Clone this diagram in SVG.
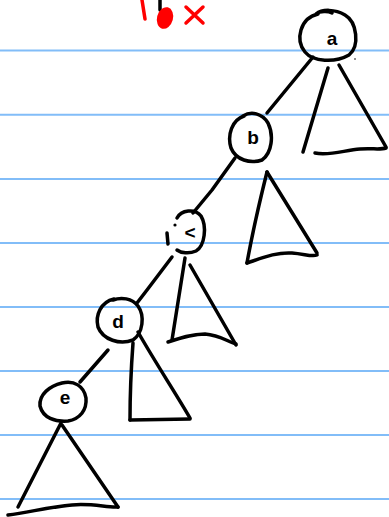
<svg xmlns="http://www.w3.org/2000/svg" width="389" height="517" viewBox="0 0 389 517">
<style>
.rule{stroke:#82bdf8;stroke-width:2}
.ink{fill:none;stroke:#000;stroke-width:3.5;stroke-linecap:round;stroke-linejoin:round}
.red{fill:none;stroke:#f00;stroke-width:3.5;stroke-linecap:round}
.lbl{font-family:"Liberation Sans",Arial,sans-serif;font-size:19px;font-weight:bold;fill:#000;text-anchor:middle}
</style>
<rect width="389" height="517" fill="#fff"/>
<g id="paper">
<line class="rule" x1="0" y1="50.5" x2="389" y2="50.5"/>
<line class="rule" x1="0" y1="114.8" x2="389" y2="114.8"/>
<line class="rule" x1="0" y1="179" x2="389" y2="179"/>
<line class="rule" x1="0" y1="243" x2="389" y2="243"/>
<line class="rule" x1="0" y1="307" x2="389" y2="307"/>
<line class="rule" x1="0" y1="371" x2="389" y2="371"/>
<line class="rule" x1="0" y1="435" x2="389" y2="435"/>
<line class="rule" x1="0" y1="499" x2="389" y2="499"/>
</g>
<g id="marks">
<path class="red" d="M142,0 L145,19"/>
<path class="ink" d="M160,0 L160,10"/>
<ellipse cx="165" cy="18" rx="8" ry="11" fill="#f00" transform="rotate(15 165 18)"/>
<path class="red" d="M186,7 L203,23 M203,7 L186,23"/>
</g>
<g id="connectors">
<path class="ink" d="M313,57 L267,113"/>
<path class="ink" d="M235,158 L212,190 L193,213"/>
<path class="ink" d="M172,257 L147,290 L137,303"/>
<path class="ink" d="M108,350 L80,382"/>
</g>
<g id="node-a">
<path class="ink" d="M318,14 C300,18 295,40 305,52 C313,62 335,63 349,55 C360,46 357,22 345,15 C335,9 322,9 316,14 C320,11 328,11 332,13"/>
<text class="lbl" x="332" y="45">a</text>
<circle cx="355" cy="59" r="0.8" fill="#000"/>
</g>
<g id="tree-a">
<path class="ink" d="M328,68 L303,152"/>
<path class="ink" d="M339,65 L386,147"/>
<path class="ink" d="M315,153 C330,156 345,150 360,149 C372,148 380,150 386,148"/>
</g>
<g id="node-b">
<path class="ink" d="M244,116 C232,120 227,135 231,148 C236,160 250,164 262,160 C272,153 274,135 268,123 C262,113 251,111 243,116"/>
<text class="lbl" x="253" y="144">b</text>
</g>
<g id="tree-b">
<path class="ink" d="M267,172 C260,200 252,235 247,263"/>
<path class="ink" d="M267,172 L317,253"/>
<path class="ink" d="M247,263 C262,258 276,252 292,253 C305,254 312,257 317,255"/>
</g>
<g id="node-c">
<path class="ink" d="M177,218 C181,210 195,208 201,216 C207,226 205,246 196,251 C189,254 181,253 177,250"/>
<path class="ink" d="M167,233 L168,244"/>
<circle cx="175" cy="225" r="1.6" fill="#000"/>
<text class="lbl" x="190" y="239">&lt;</text>
</g>
<g id="tree-c">
<path class="ink" d="M185,258 L172,340"/>
<path class="ink" d="M190,265 L236,345"/>
<path class="ink" d="M168,342 C180,338 192,334 205,334 C220,335 228,342 236,344"/>
</g>
<g id="node-d">
<path class="ink" d="M114,299 C101,302 95,315 98,327 C103,340 120,345 133,340 C143,333 145,316 138,306 C132,298 121,297 113,300"/>
<text class="lbl" x="118" y="328">d</text>
</g>
<g id="tree-d">
<path class="ink" d="M133,343 C131,370 130,398 130,420"/>
<path class="ink" d="M138,332 C155,362 175,392 190,418"/>
<path class="ink" d="M130,420 L190,419"/>
</g>
<g id="node-e">
<path class="ink" d="M62,383 C50,386 39,394 40,406 C43,418 55,422 68,421 C80,419 87,410 86,398 C84,386 74,380 62,383"/>
<text class="lbl" x="65" y="404">e</text>
</g>
<g id="tree-e">
<path class="ink" d="M61,423 L18,507"/>
<path class="ink" d="M62,425 L118,507"/>
<path class="ink" d="M8,515 C30,512 50,507 72,505 C92,503 108,508 118,507"/>
</g>
</svg>
